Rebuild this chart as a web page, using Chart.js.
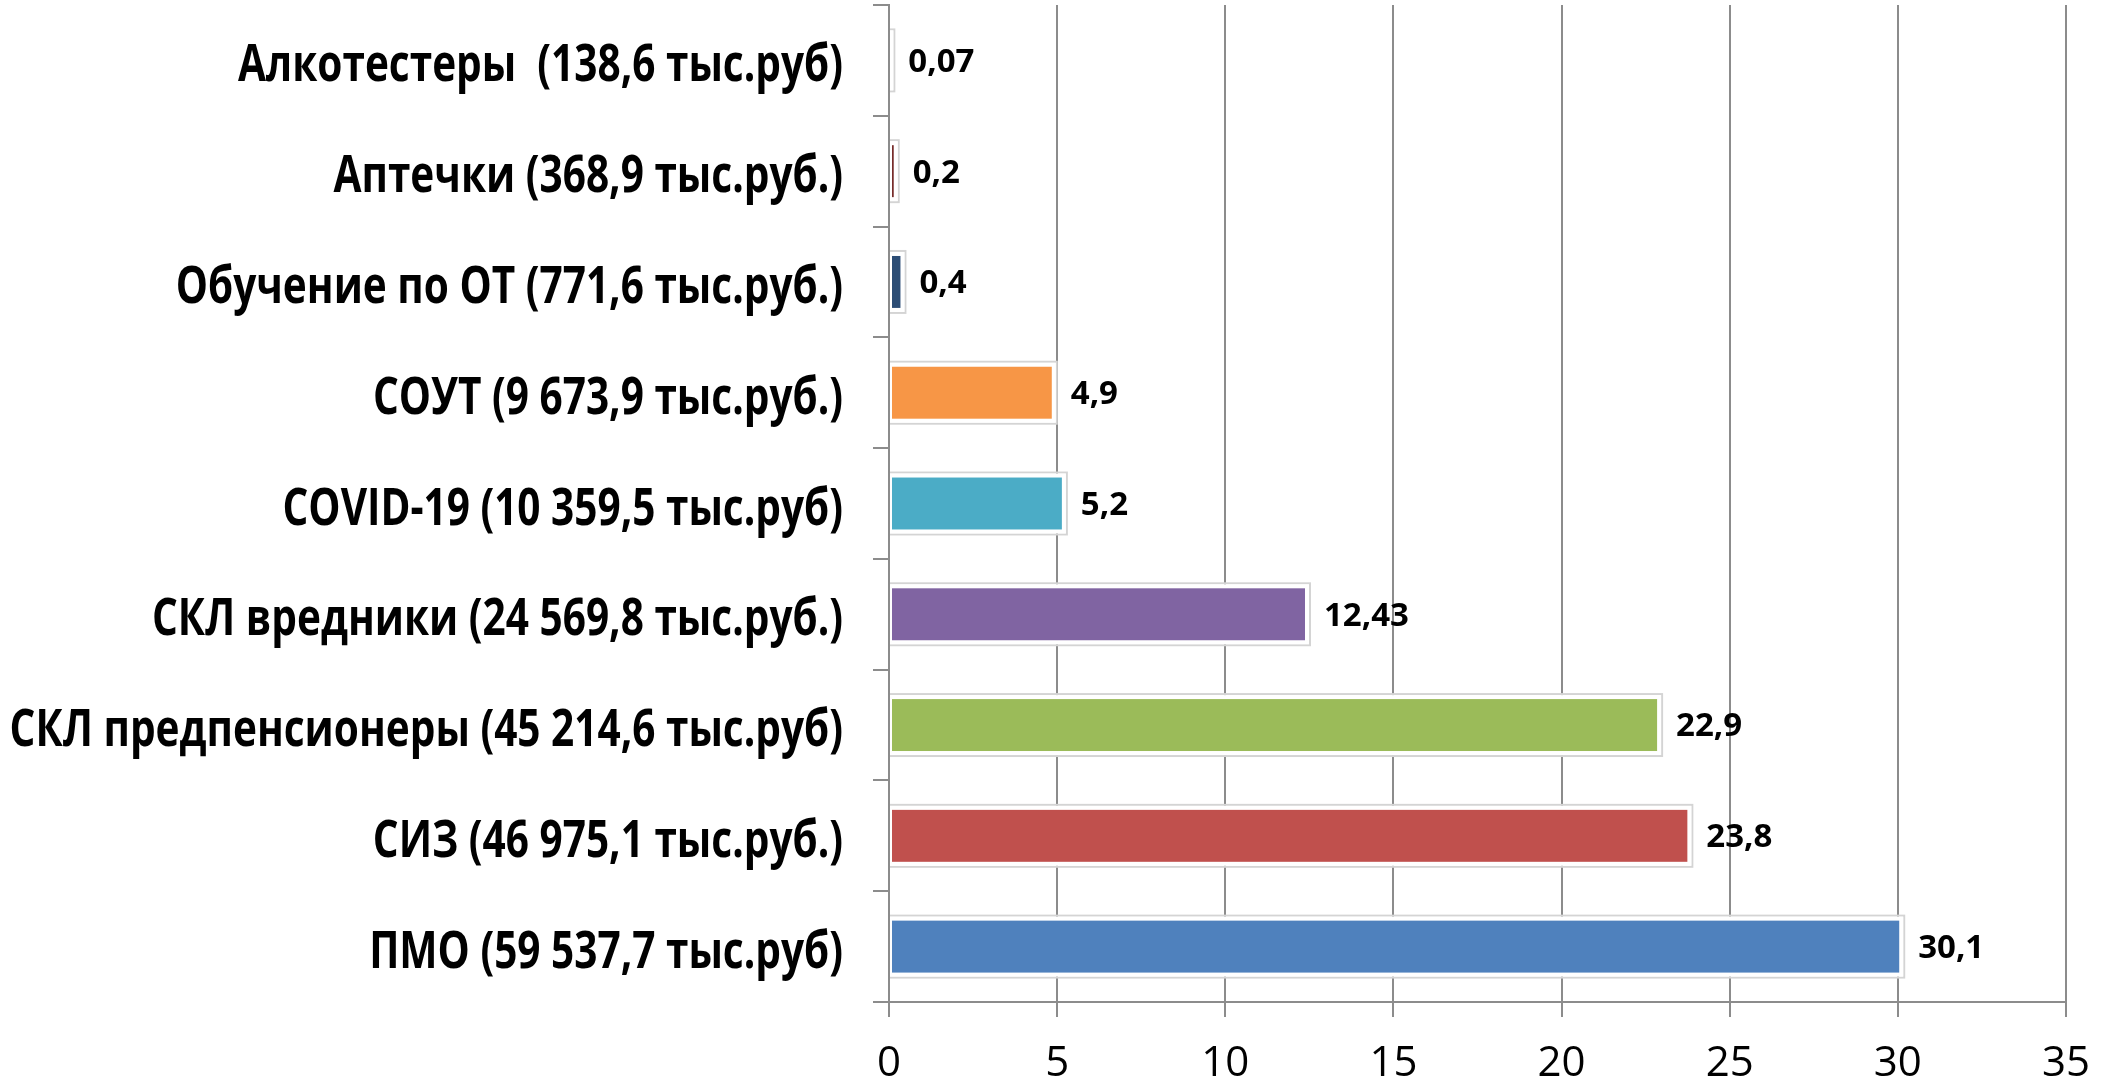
<!DOCTYPE html>
<html lang="ru">
<head>
    <meta charset="UTF-8">
    <title>Затраты на охрану труда</title>
    <script src="https://cdn.jsdelivr.net/npm/chart.js"></script>
    <style>
        html, body {
            margin: 0;
            padding: 0;
            background: #fff;
        }
        #chart-container {
            width: 2103px;
            height: 1082px;
        }
    </style>
</head>
<body>
    <div id="chart-container">
        <canvas id="cost-chart"></canvas>
    </div>

    <script>
        // categories, top to bottom
        const categories = [
            'Алкотестеры  (138,6 тыс.руб)',
            'Аптечки (368,9 тыс.руб.)',
            'Обучение по ОТ (771,6 тыс.руб.)',
            'СОУТ (9 673,9 тыс.руб.)',
            'COVID-19 (10 359,5 тыс.руб)',
            'СКЛ вредники (24 569,8 тыс.руб.)',
            'СКЛ предпенсионеры (45 214,6 тыс.руб)',
            'СИЗ (46 975,1 тыс.руб.)',
            'ПМО (59 537,7 тыс.руб)'
        ];
        const shares = [0.07, 0.2, 0.4, 4.9, 5.2, 12.43, 22.9, 23.8, 30.1];
        const barColors = ['#5F7530', '#772C2A', '#2C4D75', '#F79646', '#4BACC6', '#8064A2', '#9BBB59', '#C0504D', '#4F81BD'];
        const xTicks = [0, 5, 10, 15, 20, 25, 30, 35];

        const gridGray = '#8c8c8c';

        // white frame + faint outline round each bar, like the office chart style
        const barFrame = {
            id: 'barFrame',
            afterDatasetsDraw(chart) {
                const ctx = chart.ctx;
                const meta = chart.getDatasetMeta(0);
                const area = chart.chartArea;
                ctx.save();
                ctx.beginPath();
                ctx.rect(area.left + 1, 0, chart.width, chart.height);
                ctx.clip();
                meta.data.forEach(bar => {
                    const p = bar.getProps(['x', 'y', 'base', 'height'], true);
                    const top = p.y - p.height / 2;
                    const w = p.x - p.base;
                    ctx.lineWidth = 2;
                    ctx.strokeStyle = '#d4d4d4';
                    ctx.strokeRect(p.base - 3, top - 3, w + 6, p.height + 6);
                    ctx.lineWidth = 4;
                    ctx.strokeStyle = '#ffffff';
                    ctx.strokeRect(p.base, top, w, p.height);
                });
                ctx.restore();
            }
        };

        const valueLabels = {
            id: 'valueLabels',
            afterDatasetsDraw(chart) {
                const ctx = chart.ctx;
                const meta = chart.getDatasetMeta(0);
                ctx.save();
                ctx.font = 'bold 33px "Open Sans"';
                ctx.fillStyle = '#000';
                ctx.textAlign = 'left';
                ctx.textBaseline = 'middle';
                meta.data.forEach((bar, i) => {
                    const text = String(shares[i]).replace('.', ',');
                    ctx.fillText(text, bar.x + 17, bar.y + 2);
                });
                ctx.restore();
            }
        };

        // category names in a narrow bold face (squeezed Open Sans)
        const categoryLabels = {
            id: 'categoryLabels',
            afterDraw(chart) {
                const ctx = chart.ctx;
                const yScale = chart.scales.y;
                const right = yScale.right - 46;
                ctx.save();
                ctx.font = 'bold 52px "Open Sans"';
                ctx.fillStyle = '#000';
                ctx.textAlign = 'right';
                ctx.textBaseline = 'alphabetic';
                categories.forEach((name, i) => {
                    const y = yScale.getPixelForTick(i);
                    ctx.save();
                    ctx.translate(right, y + 21);
                    ctx.scale(0.78, 1);
                    ctx.fillText(name, 0, 0);
                    ctx.restore();
                });
                ctx.restore();
            }
        };

        new Chart(document.getElementById('cost-chart'), {
            type: 'bar',
            data: {
                labels: categories,
                datasets: [{
                    data: shares,
                    backgroundColor: barColors,
                    borderWidth: 0,
                    barPercentage: 0.505,
                    categoryPercentage: 1
                }]
            },
            plugins: [barFrame, valueLabels, categoryLabels],
            options: {
                indexAxis: 'y',
                responsive: true,
                maintainAspectRatio: false,
                animation: false,
                layout: {
                    padding: { top: 5, right: 37, left: 0, bottom: 0 }
                },
                plugins: {
                    legend: { display: false },
                    tooltip: { enabled: false }
                },
                scales: {
                    x: {
                        min: 0,
                        max: 35,
                        afterBuildTicks(scale) {
                            scale.ticks = xTicks.map(v => ({ value: v }));
                        },
                        afterFit(scale) {
                            scale.height = 80;
                            scale.paddingLeft = 0;
                            scale.paddingRight = 0;
                        },
                        grid: {
                            color: gridGray,
                            lineWidth: 2,
                            tickLength: 15
                        },
                        border: { color: gridGray, width: 2 },
                        ticks: {
                            color: '#000',
                            padding: 22,
                            font: { family: '"Open Sans"', size: 42 }
                        }
                    },
                    y: {
                        z: 1,
                        afterFit(scale) {
                            scale.width = 889;
                            scale.paddingTop = 0;
                            scale.paddingBottom = 0;
                        },
                        grid: {
                            drawOnChartArea: false,
                            color: gridGray,
                            lineWidth: 2,
                            tickLength: 16
                        },
                        border: { color: gridGray, width: 2 },
                        ticks: { display: false }
                    }
                }
            }
        });
    </script>
</body>
</html>
